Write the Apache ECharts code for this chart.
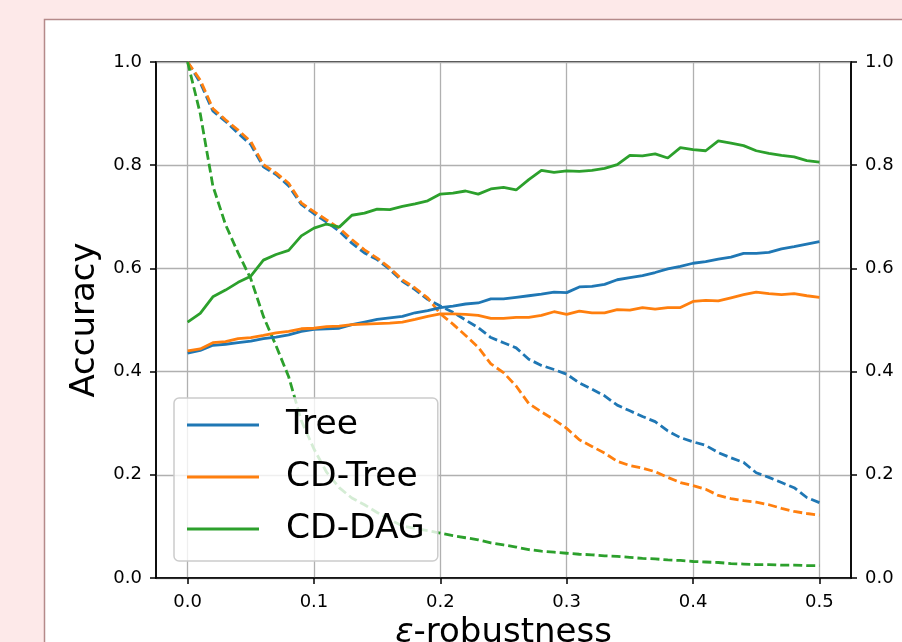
<!DOCTYPE html>
<html>
<head>
<meta charset="utf-8">
<script src="https://cdn.jsdelivr.net/npm/echarts@6/dist/echarts.min.js"></script>
<style>
  html, body { margin: 0; padding: 0; background: #fde9e9; }
  #chart { width: 902px; height: 642px; }
</style>
</head>
<body>
<div id="chart"></div>
<script>
// epsilon values (x)
const eps = [
  0.00, 0.01, 0.02, 0.03, 0.04, 0.05, 0.06, 0.07, 0.08, 0.09,
  0.10, 0.11, 0.12, 0.13, 0.14, 0.15, 0.16, 0.17, 0.18, 0.19,
  0.20, 0.21, 0.22, 0.23, 0.24, 0.25, 0.26, 0.27, 0.28, 0.29,
  0.30, 0.31, 0.32, 0.33, 0.34, 0.35, 0.36, 0.37, 0.38, 0.39,
  0.40, 0.41, 0.42, 0.43, 0.44, 0.45, 0.46, 0.47, 0.48, 0.49, 0.50
];

// solid lines
const treeSolid = [
  0.436, 0.441, 0.451, 0.453, 0.456, 0.459, 0.464, 0.467, 0.471, 0.478,
  0.482, 0.483, 0.484, 0.491, 0.496, 0.501, 0.504, 0.507, 0.514, 0.518,
  0.524, 0.527, 0.531, 0.533, 0.541, 0.541, 0.544, 0.547, 0.550, 0.554,
  0.553, 0.564, 0.565, 0.569, 0.578, 0.582, 0.586, 0.592, 0.599, 0.604,
  0.610, 0.613, 0.618, 0.622, 0.629, 0.629, 0.631, 0.638, 0.642, 0.647, 0.652
];
const cdTreeSolid = [
  0.440, 0.444, 0.456, 0.458, 0.464, 0.466, 0.470, 0.475, 0.478, 0.483,
  0.484, 0.487, 0.488, 0.491, 0.492, 0.493, 0.494, 0.496, 0.501, 0.507,
  0.512, 0.512, 0.511, 0.509, 0.503, 0.503, 0.505, 0.505, 0.509, 0.516,
  0.511, 0.517, 0.514, 0.514, 0.520, 0.519, 0.524, 0.521, 0.524, 0.524,
  0.536, 0.538, 0.537, 0.543, 0.549, 0.554, 0.551, 0.549, 0.551, 0.547, 0.544
];
const cdDagSolid = [
  0.496, 0.513, 0.545, 0.558, 0.573, 0.585, 0.616, 0.627, 0.635, 0.663,
  0.678, 0.686, 0.680, 0.703, 0.707, 0.715, 0.714, 0.720, 0.725, 0.731,
  0.744, 0.746, 0.750, 0.744, 0.754, 0.757, 0.752, 0.772, 0.790, 0.786,
  0.789, 0.788, 0.790, 0.794, 0.801, 0.819, 0.818, 0.822, 0.814, 0.834,
  0.830, 0.828, 0.847, 0.843, 0.838, 0.828, 0.823, 0.819, 0.816, 0.809, 0.806
];

// dashed lines
const treeDashed = [
  1.000, 0.960, 0.905, 0.885, 0.862, 0.840, 0.797, 0.782, 0.760, 0.724,
  0.706, 0.690, 0.672, 0.649, 0.630, 0.617, 0.598, 0.575, 0.559, 0.540,
  0.527, 0.515, 0.500, 0.485, 0.466, 0.456, 0.446, 0.424, 0.412, 0.404,
  0.395, 0.378, 0.366, 0.353, 0.335, 0.324, 0.313, 0.303, 0.285, 0.272,
  0.264, 0.257, 0.243, 0.233, 0.224, 0.204, 0.195, 0.185, 0.175, 0.156, 0.146
];
const cdTreeDashed = [
  1.000, 0.965, 0.910, 0.888, 0.868, 0.846, 0.801, 0.785, 0.765, 0.727,
  0.710, 0.694, 0.678, 0.656, 0.636, 0.620, 0.601, 0.578, 0.562, 0.543,
  0.512, 0.492, 0.470, 0.447, 0.415, 0.398, 0.372, 0.338, 0.322, 0.307,
  0.290, 0.268, 0.255, 0.242, 0.226, 0.218, 0.213, 0.206, 0.195, 0.185,
  0.179, 0.172, 0.160, 0.154, 0.150, 0.147, 0.142, 0.135, 0.129, 0.125, 0.122
];
const cdDagDashed = [
  1.000, 0.900, 0.760, 0.685, 0.630, 0.580, 0.507, 0.450, 0.390, 0.305,
  0.250, 0.205, 0.175, 0.155, 0.142, 0.127, 0.113, 0.101, 0.096, 0.092,
  0.087, 0.082, 0.078, 0.074, 0.068, 0.064, 0.060, 0.055, 0.052, 0.050,
  0.048, 0.046, 0.045, 0.043, 0.042, 0.040, 0.038, 0.037, 0.035, 0.034,
  0.032, 0.031, 0.030, 0.028, 0.027, 0.026, 0.026, 0.025, 0.025, 0.024, 0.024
];

const xTicks = [0, 0.1, 0.2, 0.3, 0.4, 0.5];
const legendNames = ["Tree", "CD-Tree", "CD-DAG"];
const colors = ["#1f77b4", "#ff7f0e", "#2ca02c"];

const font = "DejaVu Sans";
const pair = (ys) => eps.map((x, i) => [x, ys[i]]);

const makeLine = (name, ys, color, dashed) => ({
  name: name,
  type: "line",
  data: pair(ys),
  symbol: "none",
  smooth: false,
  lineStyle: { color: color, width: 2.8, type: dashed ? [9, 4] : "solid" },
  itemStyle: { color: color },
  emphasis: { disabled: true },
  z: dashed ? 2 : 3
});

const yAxisBase = {
  type: "value",
  min: 0,
  max: 1,
  interval: 0.2,
  axisLine: { show: true, onZero: false, lineStyle: { color: "#000", width: 1.5 } },
  axisTick: { show: true, inside: false, length: 6, lineStyle: { color: "#000", width: 1.5 } },
  axisLabel: {
    margin: 14,
    color: "#000",
    fontFamily: font,
    fontSize: 18,
    formatter: (v) => v.toFixed(1)
  }
};

const chart = echarts.init(document.getElementById("chart"), null, { renderer: "canvas" });

const option = {
  backgroundColor: "#fde9e9",
  animation: false,
  textStyle: { fontFamily: font },
  graphic: [
    {
      type: "rect",
      z: -100,
      silent: true,
      shape: { x: 44.5, y: 19.5, width: 900, height: 700 },
      style: { fill: "#ffffff", stroke: "#b58a8a", lineWidth: 1.5 }
    }
  ],
  grid: {
    left: 156,
    top: 62,
    right: 51,
    bottom: 64,
    outerBoundsMode: "none",
    containLabel: false,
    show: true,
    backgroundColor: "#ffffff",
    borderColor: "#000",
    borderWidth: 1.5
  },
  legend: {
    data: legendNames,
    orient: "vertical",
    left: 174,
    top: 398,
    padding: [9, 13, 14, 13],
    itemWidth: 72,
    itemHeight: 20,
    itemGap: 16,
    icon: "path://M0,0L72,0L72,3L0,3Z",
    backgroundColor: "rgba(255,255,255,0.8)",
    borderColor: "#cccccc",
    borderWidth: 1.5,
    borderRadius: 5,
    textStyle: {
      fontFamily: font,
      fontSize: 34.5,
      color: "#000",
      lineHeight: 36,
      padding: [0, 0, 0, 22]
    }
  },
  xAxis: {
    type: "value",
    min: -0.025,
    max: 0.525,
    name: "{e|ε}-robustness",
    nameLocation: "middle",
    nameGap: 36,
    nameTextStyle: {
      fontFamily: font,
      fontSize: 34,
      color: "#000",
      rich: { e: { fontFamily: font, fontSize: 34, fontStyle: "italic", color: "#000" } }
    },
    axisLine: { show: true, onZero: false, lineStyle: { color: "#000", width: 1.5 } },
    axisTick: {
      show: true,
      inside: false,
      length: 6,
      customValues: xTicks,
      lineStyle: { color: "#000", width: 1.5 }
    },
    axisLabel: {
      margin: 15,
      color: "#000",
      fontFamily: font,
      fontSize: 18,
      customValues: xTicks,
      formatter: (v) => v.toFixed(1)
    },
    splitLine: { show: true, lineStyle: { color: "#b0b0b0", width: 1.3 } }
  },
  yAxis: [
    Object.assign({}, yAxisBase, {
      position: "left",
      name: "Accuracy",
      nameLocation: "middle",
      nameGap: 52,
      nameTextStyle: { fontFamily: font, fontSize: 34, color: "#000" },
      splitLine: { show: true, lineStyle: { color: "#b0b0b0", width: 1.3 } }
    }),
    Object.assign({}, yAxisBase, {
      position: "right",
      splitLine: { show: false }
    })
  ],
  series: [
    makeLine("Tree", treeSolid, colors[0], false),
    makeLine("CD-Tree", cdTreeSolid, colors[1], false),
    makeLine("CD-DAG", cdDagSolid, colors[2], false),
    makeLine("Tree (attack)", treeDashed, colors[0], true),
    makeLine("CD-Tree (attack)", cdTreeDashed, colors[1], true),
    makeLine("CD-DAG (attack)", cdDagDashed, colors[2], true)
  ]
};

chart.setOption(option);
</script>
</body>
</html>
